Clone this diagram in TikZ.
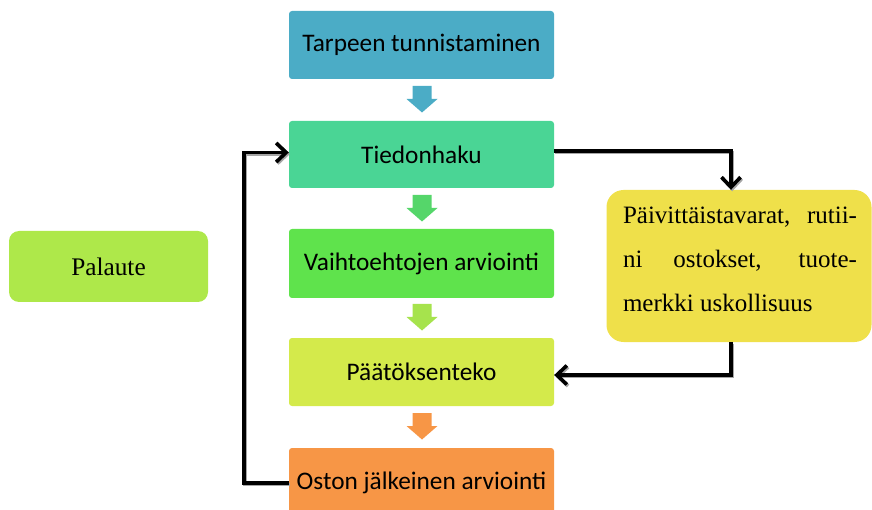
\documentclass[tikz,border=0pt]{standalone}
\usepackage{fontspec}
\setmainfont{Liberation Serif}
\newfontfamily\calfont{Carlito}
\usetikzlibrary{arrows.meta}
\definecolor{cA}{HTML}{4BACC6}
\definecolor{cB}{HTML}{4AD595}
\definecolor{cBa}{HTML}{55D66A}
\definecolor{cC}{HTML}{5FE34C}
\definecolor{cCa}{HTML}{A6E34D}
\definecolor{cD}{HTML}{D4EA4B}
\definecolor{cE}{HTML}{F79646}
\definecolor{cPal}{HTML}{AEE84A}
\definecolor{cYel}{HTML}{EFE04A}
\newcommand\blockarr[2]{%
  \fill[#2] (412.5,#1) -- (431.5,#1) -- (431.5,#1+13) -- (437.5,#1+13) -- (422,#1+26.5) -- (406.5,#1+13) -- (412.5,#1+13) -- cycle;}
\begin{document}
\begin{tikzpicture}[x=1pt,y=-1pt,
  mainbox/.style={rounded corners=3pt, minimum width=265pt, inner sep=0pt, text=black,
    font=\calfont\fontsize{25.3}{30}\selectfont},
  conn/.style={line width=3.6pt, black, -{Straight Barb[length=10pt,width=19pt]},
    preaction={draw=black!35, line width=3.6pt, transform canvas={xshift=1.2pt,yshift=-1.5pt}}}]
\useasboundingbox (0,0) rectangle (872,510);
\node[mainbox, fill=cA, minimum height=68pt] (n1) at (421.5,45) {Tarpeen tunnistaminen};
\node[mainbox, fill=cB, minimum height=67pt] (n2) at (421.5,154.5) {Tiedonhaku};
\node[mainbox, fill=cC, minimum height=69pt] (n3) at (421.5,263.5) {Vaihtoehtojen arviointi};
\node[mainbox, fill=cD, minimum height=68pt] (n4) at (421.5,372) {Päätöksenteko};
\node[mainbox, fill=cE, minimum height=70pt] (n5) at (421.5,483) {Oston jälkeinen arviointi};
\blockarr{86}{cA}
\blockarr{195}{cBa}
\blockarr{304}{cCa}
\blockarr{413}{cE}
\node[fill=cPal, rounded corners=10pt, minimum width=199pt, minimum height=71pt, inner sep=0pt,
  font=\fontsize{25.3}{30}\selectfont] (pal) at (108.5,266.5) {Palaute};
\node[fill=cYel, rounded corners=17pt, minimum width=265pt, minimum height=152pt, inner sep=0pt] (yel) at (739,266) {};
\node[text width=234pt, align=justify, inner sep=0pt, font=\fontsize{25}{44}\selectfont] (ytxt) at (740,259)
  {\tolerance=10000 Päivittäistavarat, rutii-\linebreak ni ostokset, tuote-\linebreak merkki uskollisuus};
\draw[conn] (n2.east) ++(0,-3.5) -| ([xshift=-8pt]yel.north);
\draw[conn] ([xshift=-8pt]yel.south) |- ([yshift=-3pt]n4.east);
\draw[conn] (n5.west) -- ++(-45,0) |- ([yshift=2pt]n2.west);
\end{tikzpicture}
\end{document}
